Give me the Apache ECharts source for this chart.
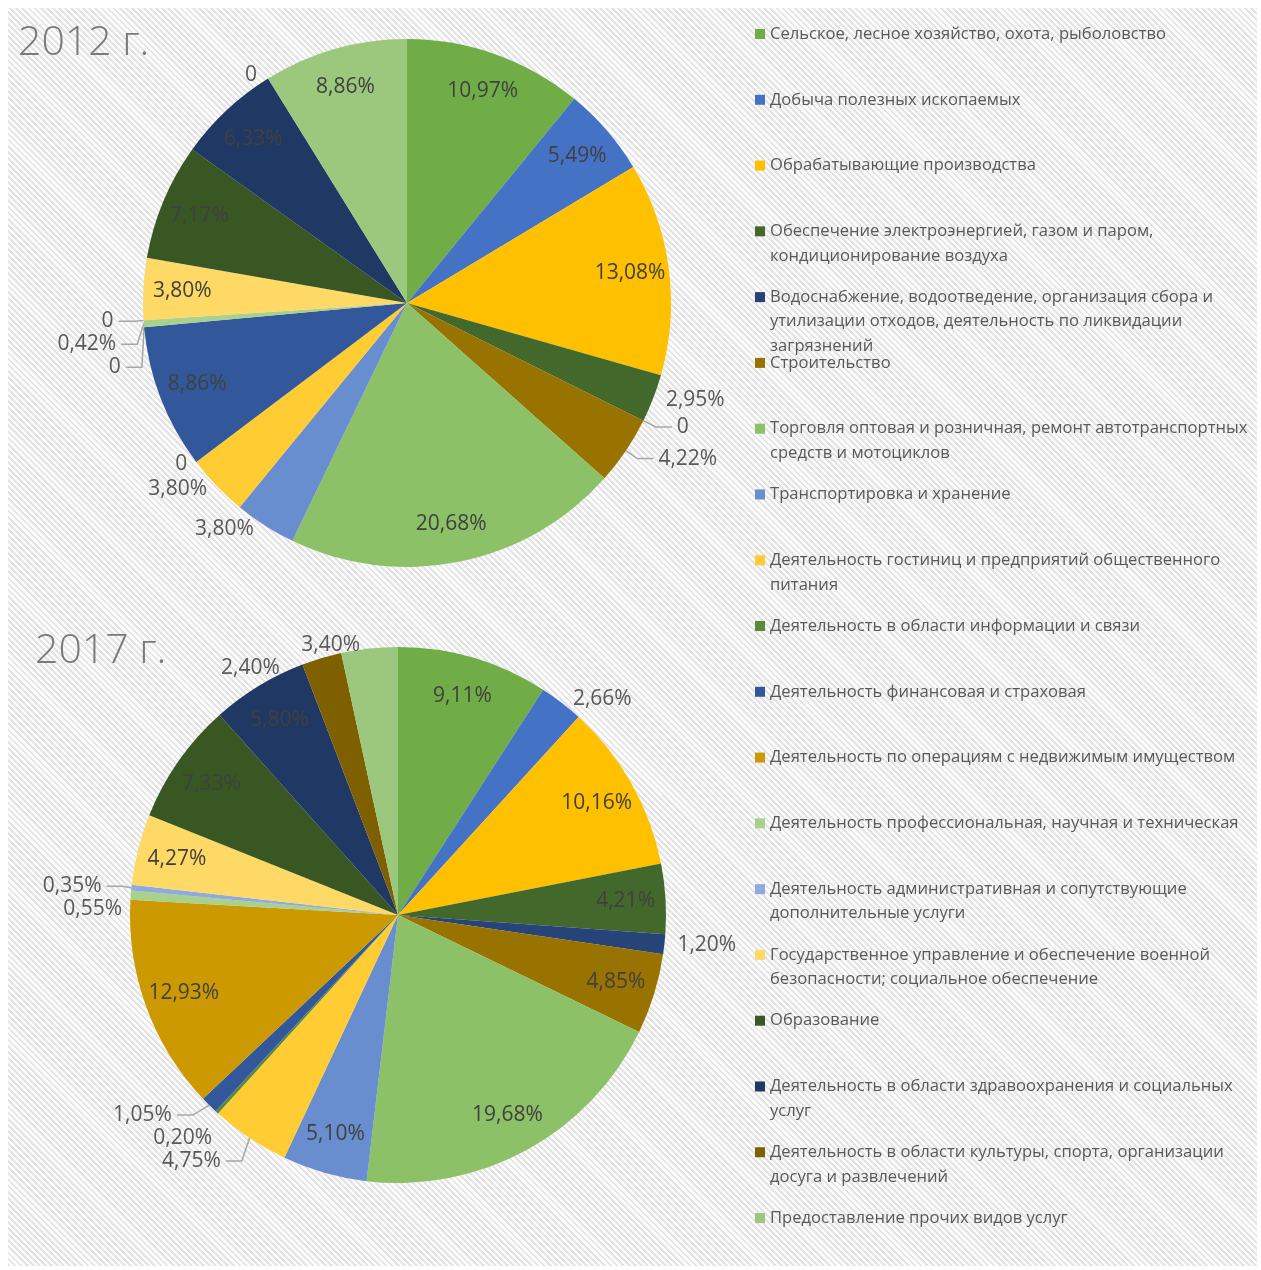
<!DOCTYPE html>
<html lang="ru">

<head>
	<meta charset="UTF-8">
	<title>Структура ВРП 2012 и 2017</title>
	<style>
		html,
		body {
			margin: 0;
			padding: 0;
			background: #fff;
		}

		.wrap {
			position: relative;
			width: 1261px;
			height: 1270px;
		}

		.hatch {
			position: absolute;
			left: 8px;
			top: 8px;
			right: 4px;
			bottom: 4px;
			background: repeating-linear-gradient(45deg, #e4e4e4 0px, #e4e4e4 2px, #fbfbfb 2px, #fbfbfb 4.3px);
		}

		#chart {
			position: absolute;
			left: 0;
			top: 0;
			width: 1261px;
			height: 1270px;
		}
	</style>
</head>

<body>
	<div class="wrap">
		<div class="hatch"></div>
		<div id="chart"></div>
	</div>

	<script src="https://cdn.jsdelivr.net/npm/echarts@6/dist/echarts.min.js"></script>
	<script>
		// отрасли (переносы строк как в легенде)
		var categories = [
			'Сельское, лесное хозяйство, охота, рыболовство',
			'Добыча полезных ископаемых',
			'Обрабатывающие производства',
			'Обеспечение электроэнергией, газом и паром,\nкондиционирование воздуха',
			'Водоснабжение, водоотведение, организация сбора и\nутилизации отходов, деятельность по ликвидации\nзагрязнений',
			'Строительство',
			'Торговля оптовая и розничная, ремонт автотранспортных\nсредств и мотоциклов',
			'Транспортировка и хранение',
			'Деятельность гостиниц и предприятий общественного\nпитания',
			'Деятельность в области информации и связи',
			'Деятельность финансовая и страховая',
			'Деятельность по операциям с недвижимым имуществом',
			'Деятельность профессиональная, научная и техническая',
			'Деятельность административная и сопутствующие\nдополнительные услуги',
			'Государственное управление и обеспечение военной\nбезопасности; социальное обеспечение',
			'Образование',
			'Деятельность в области здравоохранения и социальных\nуслуг',
			'Деятельность в области культуры, спорта, организации\nдосуга и развлечений',
			'Предоставление прочих видов услуг'
		];

		var values2012 = [10.97, 5.49, 13.08, 2.95, 0, 4.22, 20.68, 3.80, 3.80, 0, 8.86, 0, 0.42, 0, 3.80, 7.17, 6.33, 0, 8.86];
		var values2017 = [9.11, 2.66, 10.16, 4.21, 1.20, 4.85, 19.68, 5.10, 4.75, 0.20, 1.05, 12.93, 0.55, 0.35, 4.27, 7.33, 5.80, 2.40, 3.40];

		// где стоит подпись: in - внутри, out - снаружи, line - снаружи с выноской
		var place2012 = ['in', 'in', 'in', 'out', 'line', 'line', 'in', 'out', 'out', 'out', 'in', 'line', 'line', 'line', 'in', 'in', 'in', 'out', 'in'];
		var place2017 = ['in', 'out', 'in', 'in', 'out', 'in', 'in', 'in', 'line', 'out', 'line', 'in', 'out', 'line', 'in', 'in', 'in', 'out', 'out'];

		var palette = ['#70AD47', '#4472C4', '#FFC000', '#43682B', '#264478', '#997300', '#8CC168', '#698ED0', '#FFCD33',
			'#5A8A39', '#32589B', '#CC9A00', '#A9D18E', '#8FAADC', '#FFD966', '#385723', '#203864', '#7F6000', '#9BC87C'];

		var font = 'Open Sans';

		function fmt(p) {
			return p.value === 0 ? '0' : p.value.toFixed(2).replace('.', ',') + '%';
		}

		// сектора + подписи снаружи
		function sliceData(values, place) {
			return values.map(function (v, i) {
				var pl = place[i];
				return {
					name: categories[i],
					value: v,
					label: { show: pl !== 'in' },
					labelLine: pl === 'line' ? { show: true, length: 14, length2: 16 } : { show: false, length: 4, length2: 4 }
				};
			});
		}

		// прозрачный слой для подписей внутри
		function labelData(values, place) {
			return values.map(function (v, i) {
				return {
					name: categories[i],
					value: v,
					label: { show: place[i] === 'in' }
				};
			});
		}

		function pies(year, values, place, center, r) {
			return [{
				name: year,
				type: 'pie',
				center: center,
				radius: r,
				startAngle: 90,
				avoidLabelOverlap: true,
				label: {
					position: 'outside',
					formatter: fmt,
					fontFamily: font,
					fontSize: 21,
					color: '#595959'
				},
				labelLine: {
					lineStyle: { color: '#a6a6a6', width: 1.5 }
				},
				itemStyle: { borderWidth: 0 },
				emphasis: { disabled: true },
				data: sliceData(values, place)
			}, {
				name: year + ' labels',
				type: 'pie',
				center: center,
				radius: [Math.round(r * 0.68), r],
				startAngle: 90,
				silent: true,
				itemStyle: { color: 'transparent' },
				label: {
					position: 'inside',
					formatter: fmt,
					fontFamily: font,
					fontSize: 21,
					color: '#404040'
				},
				labelLine: { show: false },
				emphasis: { disabled: true },
				data: labelData(values, place)
			}];
		}

		var chart = echarts.init(document.getElementById('chart'));
		var lh = 24.6;

		var option = {
			animation: false,
			color: palette,
			title: [{
				text: '2012 г.',
				left: 13,
				top: 18,
				textStyle: { fontFamily: font, fontSize: 41, fontWeight: 300, color: '#7a7a7a' }
			}, {
				text: '2017 г.',
				left: 30,
				top: 626,
				textStyle: { fontFamily: font, fontSize: 41, fontWeight: 300, color: '#7a7a7a' }
			}],
			legend: {
				orient: 'vertical',
				left: 755,
				top: 34 - 2.5 * lh,
				height: 3000,
				padding: 0,
				icon: 'rect',
				itemWidth: 10,
				itemHeight: 10,
				itemGap: 65.78 - 5 * lh,
				selectedMode: false,
				data: categories,
				formatter: function (name) {
					// первая строка напротив маркера
					var lines = name.split('\n');
					while (lines.length < 3) lines.push('');
					return '\n\n' + lines.join('\n');
				},
				textStyle: {
					fontFamily: font,
					fontSize: 16.6,
					lineHeight: lh,
					color: '#595959'
				}
			},
			series: [].concat(
				pies('2012', values2012, place2012, [407, 303], 264),
				pies('2017', values2017, place2017, [398, 915], 268)
			)
		};

		chart.setOption(option);
	</script>
</body>

</html>
